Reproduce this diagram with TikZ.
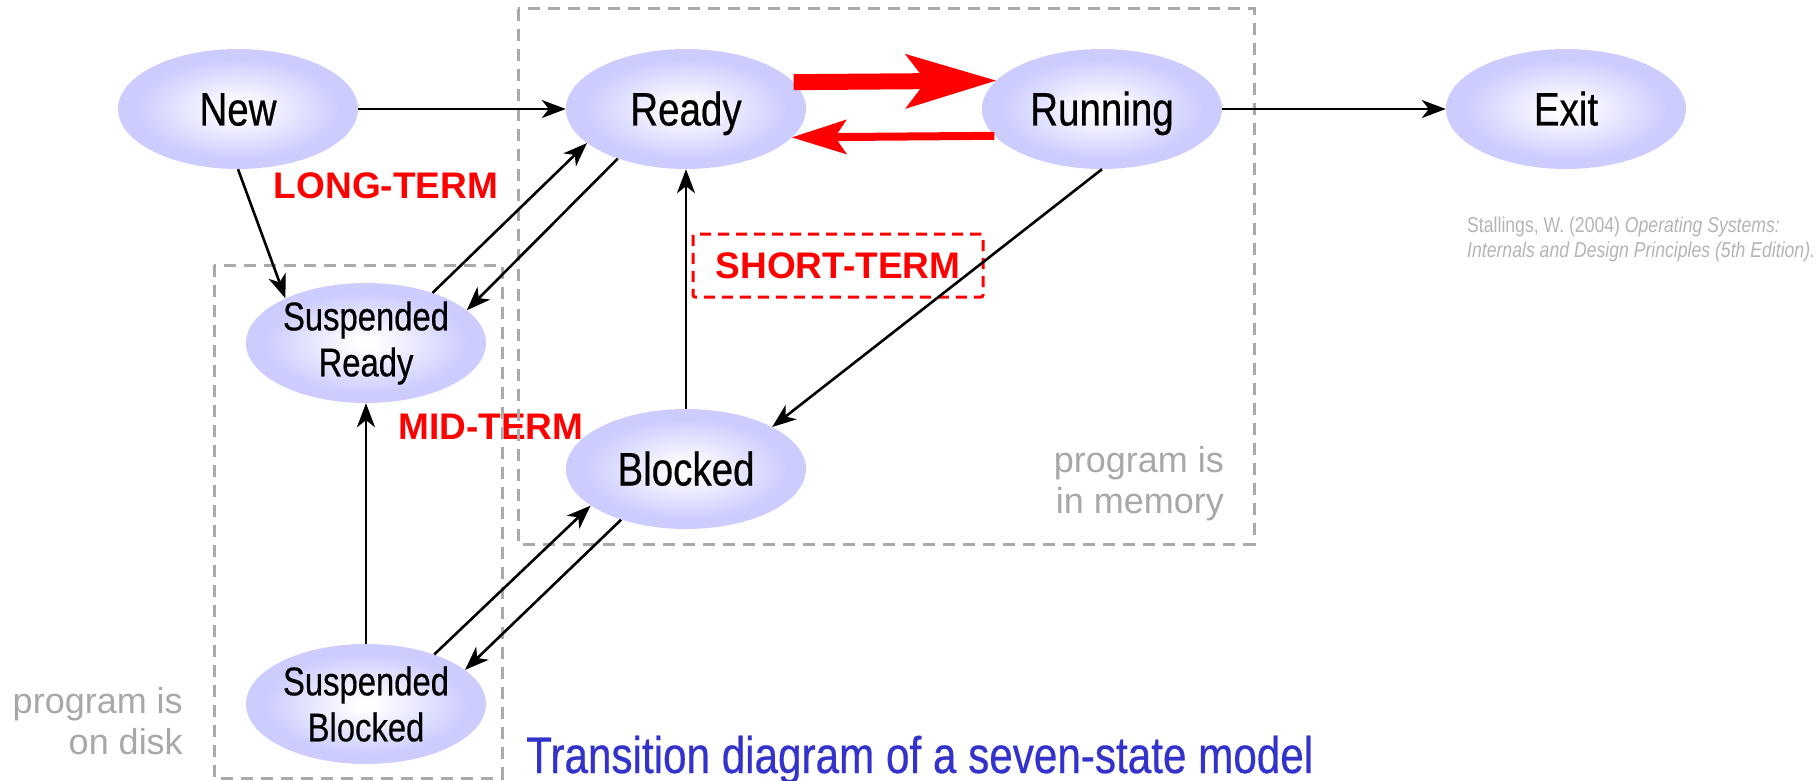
\documentclass[tikz,border=0pt]{standalone}
\usepackage{fontspec}
\setmainfont{Liberation Sans}
\newfontfamily\narrowfont[FakeStretch=0.82]{Liberation Sans}
\newfontfamily\labelfont[FakeStretch=0.82, FakeBold=0.5]{Liberation Sans}
\usetikzlibrary{shapes.geometric,arrows.meta}

\definecolor{lav}{HTML}{CCCCFF}
\definecolor{boxgray}{HTML}{AAAAAA}
\definecolor{notegray}{HTML}{A8A8A8}
\definecolor{citegray}{HTML}{B4B4B4}
\definecolor{titleblue}{HTML}{3333CC}

% soft white-to-lavender fill of the state ellipses
\pgfdeclareradialshading{stateglow}{\pgfpoint{0bp}{0bp}}{%
  color(0bp)=(white); color(2bp)=(white); color(21bp)=(lav); color(50bp)=(lav)}

\begin{document}
\begin{tikzpicture}[x=1pt,y=-1pt,
  state/.style={ellipse, shading=stateglow, minimum width=240pt, minimum height=120pt,
    inner sep=0pt, align=center, font=\labelfont\fontsize{47}{52}\selectfont,
    text height=33pt, text depth=0pt},
  twoline/.style={font=\labelfont\fontsize{40}{46}\selectfont, text height=, text depth=},
  conn/.style={line width=2.6pt, -{Stealth[length=24pt, width=18pt, inset=7pt]}},
  bigred/.style={red, line width=16pt, -{Stealth[length=91pt, width=55pt, inset=21pt, line width=0pt]}},
  smallred/.style={red, line width=8pt, -{Stealth[length=55pt, width=35pt, inset=12pt, line width=0pt]}},
  region/.style={draw=boxgray, line width=3pt, dash pattern=on 12pt off 8pt},
  term/.style={text=red, inner sep=0pt, font=\bfseries\fontsize{37}{40}\selectfont},
  shortbox/.style={term, draw=red, line width=3pt, dash pattern=on 11pt off 7pt,
    rounded corners=2pt, minimum width=290pt, minimum height=63pt},
  note/.style={text=notegray, inner sep=0pt, anchor=base east, font=\fontsize{36}{41}\selectfont},
  cite/.style={text=citegray, inner sep=0pt, anchor=base west, font=\narrowfont\fontsize{21.5}{25}\selectfont}
]
\useasboundingbox (0,0) rectangle (1820,781);

% scheduler labels
\node[term, anchor=base] (longterm) at (386,198) {LONG-TERM};
\node[term, anchor=base] (midterm) at (491,439) {MID-TERM};
\node[shortbox] (shortterm) at (838,265.5) {SHORT-TERM};

% memory and disk regions
\draw[region] (518,9) rectangle (1254,544);
\draw[region] (214,265) rectangle (502,778);

\node[note] (mem1) at (1224,472) {program is};
\node[note] (mem2) at (1224,513) {in memory};
\node[note] (disk1) at (183,713) {program is};
\node[note] (disk2) at (183,754) {on disk};

% states
\node[state] (new) at (238,109) {New};
\node[state] (ready) at (686,109) {Ready};
\node[state] (running) at (1102,109) {Running};
\node[state] (exit) at (1566,109) {Exit};
\node[state, twoline] (susready) at (366,343) {Suspended\\Ready};
\node[state] (blocked) at (686,469) {Blocked};
\node[state, twoline] (susblocked) at (366,704) {Suspended\\Blocked};

% transitions
\draw[conn] (new.east) -- (ready.west);
\draw[conn] (running.east) -- (exit.west);
\draw[conn] (new.south) -- (susready.151.6);
\draw[conn] (susready.37.5) -- (ready.199.7);
\draw[conn] (ready.216.7) -- (susready.18.9);
\draw[conn] (blocked.north) -- (ready.south);
\draw[conn] (running.south) -- (blocked.26.8);
\draw[conn] (susblocked.north) -- (susready.south);
\draw[conn] (susblocked.36.5) -- (blocked.201);
\draw[conn] (blocked.218.8) -- (susblocked.19);

\draw[bigred] (ready.14.8) -- (running.165.2);
\draw[smallred] (running.194.8) -- (ready.345.2);

% reference and caption
\node[cite] (cite1) at (1467,232) {Stallings, W. (2004) \textit{Operating Systems:}};
\node[cite] (cite2) at (1467,257) {\textit{Internals and Design Principles (5th Edition).}};
\node[anchor=base west, inner sep=0pt, text=titleblue, font=\labelfont\fontsize{51.5}{57}\selectfont]
  (caption) at (526,773) {Transition diagram of a seven-state model};
\end{tikzpicture}
\end{document}
